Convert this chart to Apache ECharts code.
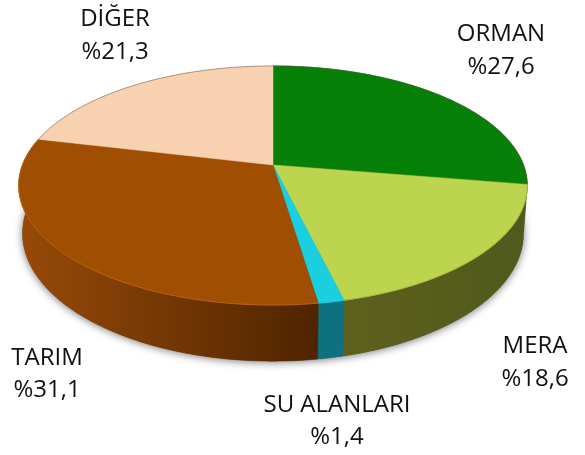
<!DOCTYPE html>
<html>
<head>
<meta charset="utf-8">
<title>Arazi dağılımı</title>
<script src="https://cdn.jsdelivr.net/npm/echarts@6/dist/echarts.min.js"></script>
<style>
html, body { margin: 0; padding: 0; background: #fff; }
#main { width: 585px; height: 455px; }
</style>
</head>
<body>
<div id="main"></div>
<script type="text/javascript">
// slices, clockwise from 12 o'clock
var categories = ['ORMAN', 'MERA', 'SU ALANLARI', 'TARIM', 'DİĞER'];
var shares = [27.6, 18.6, 1.4, 31.1, 21.3];

// styles
var topColors = ['#068006', '#bcd44e', '#1ad0e0', '#a04f02', '#f8d2b0'];
var wallLeft = ['#3f5a10', '#5f601c', '#0f7080', '#984a08', '#d8b090'];
var wallRight = ['#3f5a10', '#4e5a1c', '#0f7080', '#4f2400', '#d8b090'];
var rimColors = ['rgba(90,80,70,0.45)', '#a8bd40', '#1ad0e0', '#bc6410', 'rgba(90,80,70,0.45)'];
var labelAnchors = [[501, 50.5], [535, 362.5], [337, 421], [47, 374], [115, 35.5]];

// pie seen in perspective: far side shrinks, near side grows
var cx = 273, cy = 165, rx = 250.5, ry = 116, persp = 0.1715, depth = 46.5, taper = 0.015;

function project(angle, drop) {
	var k = 1 + persp * Math.cos(angle);
	var shrink = 1 - taper * drop / depth;
	return [cx + shrink * rx * Math.sin(angle) / k, cy + (drop - ry * Math.cos(angle)) / k];
}

function arc(from, to, drop) {
	var pts = [];
	var n = Math.max(2, Math.ceil((to - from) / 0.01));
	for (var i = 0; i <= n; i++) {
		pts.push(project(from + (to - from) * i / n, drop));
	}
	return pts;
}

function renderSlice(params, api) {
	var i = params.dataIndex;
	var total = 0, before = 0;
	for (var j = 0; j < shares.length; j++) {
		total += shares[j];
		if (j < i) before += shares[j];
	}
	var a0 = before / total * Math.PI * 2;
	var a1 = (before + api.value(0)) / total * Math.PI * 2;
	var rim = arc(a0, a1, 0);
	var wallFill = new echarts.graphic.LinearGradient(0, 0, 1, 0, [
		{ offset: 0, color: wallLeft[i] },
		{ offset: 1, color: wallRight[i] }
	]);
	var children = [{
		type: 'polygon',
		z2: 2,
		shape: { points: rim.concat(arc(a0, a1, depth).reverse()) },
		style: { fill: wallFill, stroke: wallFill, lineWidth: 0.5 }
	}, {
		type: 'polygon',
		z2: 4,
		shape: { points: [[cx, cy]].concat(rim) },
		style: { fill: topColors[i], stroke: topColors[i], lineWidth: 0.5 }
	}, {
		type: 'polyline',
		z2: 5,
		shape: { points: rim },
		style: { fill: null, stroke: rimColors[i], lineWidth: 1 }
	}];
	if (i === 0) {
		// soft shadow under the whole pie
		children.push({
			type: 'polygon',
			z2: 1,
			shape: { points: arc(0, Math.PI * 2, depth) },
			style: { fill: '#555', shadowBlur: 8, shadowColor: 'rgba(0,0,0,0.55)', shadowOffsetY: 1 }
		});
	}
	return { type: 'group', children: children };
}

var graphics = [];
for (var g = 0; g < categories.length; g++) {
	graphics.push({
		type: 'text',
		x: labelAnchors[g][0],
		y: labelAnchors[g][1],
		silent: true,
		style: {
			text: categories[g] + '\n%' + shares[g].toFixed(1).replace('.', ','),
			fill: '#111',
			font: '24px "Open Sans"',
			lineHeight: 32.5,
			align: 'center',
			verticalAlign: 'middle'
		}
	});
}

var chart = echarts.init(document.getElementById('main'), null, { renderer: 'canvas' });
chart.setOption({
	animation: false,
	backgroundColor: '#fff',
	graphic: graphics,
	series: [{
		type: 'custom',
		coordinateSystem: 'none',
		silent: true,
		renderItem: renderSlice,
		data: shares.map(function (v) { return [v]; })
	}]
});
</script>
</body>
</html>
